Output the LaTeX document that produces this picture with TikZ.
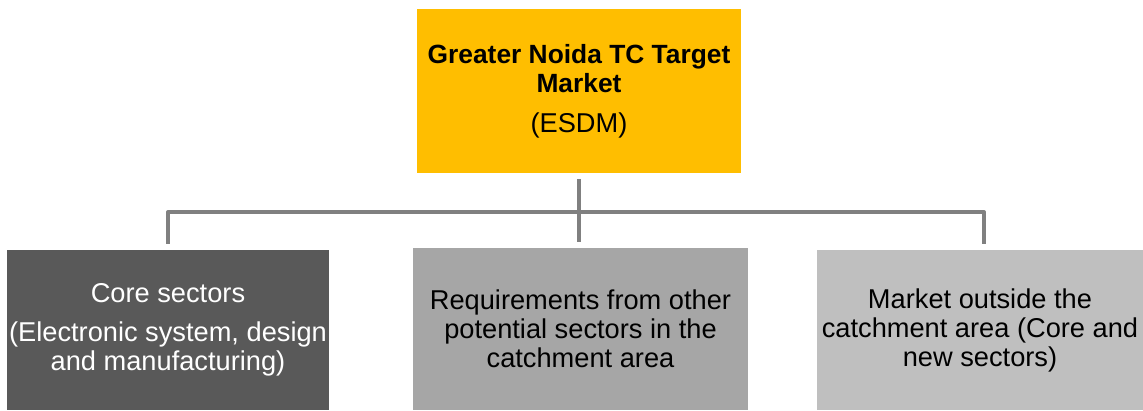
\documentclass[tikz,border=0pt]{standalone}
\usepackage{fontspec}
\setmainfont{Liberation Sans}
\definecolor{eyyellow}{HTML}{FFBE00}
\definecolor{darkbox}{HTML}{595959}
\definecolor{midbox}{HTML}{A6A6A6}
\definecolor{lightbox}{HTML}{BFBFBF}
\definecolor{linegray}{HTML}{808080}
\begin{document}
\begin{tikzpicture}[x=0.02cm,y=-0.02cm,
  box/.style={rectangle,inner sep=0pt,align=center,font=\fontsize{15.5}{16.5}\selectfont},
  conn/.style={draw=linegray,line width=2.3pt}]
\useasboundingbox (0,0) rectangle (1143,410);
\node[box,fill=eyyellow,minimum width=324*0.02cm,minimum height=164*0.02cm] (top) at (579,91)
  {{\fontsize{15}{16.5}\selectfont\textbf{Greater Noida TC Target}}\\{\fontsize{15}{16.5}\selectfont\textbf{Market}}\\[6.5pt](ESDM)};
\node[box,fill=darkbox,text=white,minimum width=322*0.02cm,minimum height=160*0.02cm] (b1) at (168,330)
  {Core sectors\\[5.5pt](Electronic system, design\\and manufacturing)};
\node[box,fill=midbox,minimum width=335*0.02cm,minimum height=162*0.02cm] (b2) at (580.5,329)
  {Requirements from other\\potential sectors in the\\catchment area};
\node[box,fill=lightbox,minimum width=326*0.02cm,minimum height=160*0.02cm] (b3) at (980,330)
  {Market outside the\\catchment area (Core and\\new sectors)};
\coordinate (j) at (579,212);
\coordinate (jl) at (168,212);
\coordinate (jr) at (984,212);
\draw[conn] ([yshift=-6*0.02cm]top.south) -- ([yshift=6*0.02cm]b2.north -| top.south);
\draw[conn,line join=round] ([yshift=6*0.02cm]b1.north -| jl) -- (jl) -- (jr) -- ([yshift=6*0.02cm]b3.north -| jr);
\end{tikzpicture}
\end{document}
